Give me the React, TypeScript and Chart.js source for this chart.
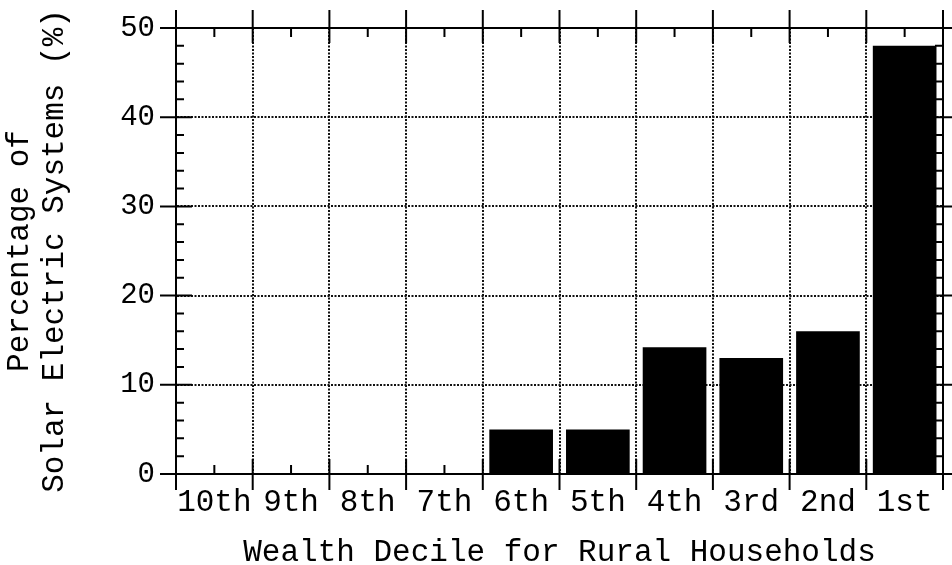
import React, { useEffect, useRef } from "react";
import { Chart, registerables } from "chart.js";

Chart.register(...registerables);

const CATEGORIES = ["10th", "9th", "8th", "7th", "6th", "5th", "4th", "3rd", "2nd", "1st"];
const VALUES = [0, 0, 0, 0, 5, 5, 14.2, 13, 16, 48];
const Y_MIN = 0;
const Y_MAX = 50;
const Y_STEP = 10;
const Y_MINOR_STEP = 2;
const X_TITLE = "Wealth Decile for Rural Households";
const Y_TITLE = ["Percentage of", "Solar Electric Systems (%)"];

const FONT = "'Liberation Mono', 'DejaVu Sans Mono', monospace";

const framePlugin = {
  id: "frame",
  beforeDatasetsDraw(chart: any) {
    const { ctx, chartArea: a, scales } = chart;
    const xs = scales.x;
    const ys = scales.y;
    const n = CATEGORIES.length;
    ctx.save();
    ctx.strokeStyle = "#000";
    ctx.lineWidth = 2;
    ctx.setLineDash([]);
    ctx.beginPath();
    ctx.moveTo(a.left - 1, a.top);
    ctx.lineTo(a.right, a.top);
    ctx.lineTo(a.right, a.bottom);
    for (let i = 0; i <= n; i++) {
      const px = xs.getPixelForValue(i - 0.5);
      ctx.moveTo(px, a.top - 18);
      ctx.lineTo(px, a.top + 15);
      ctx.moveTo(px, a.bottom - 15);
      ctx.lineTo(px, a.bottom + 16);
    }
    for (let i = 0; i < n; i++) {
      const px = xs.getPixelForValue(i);
      ctx.moveTo(px, a.top);
      ctx.lineTo(px, a.top + 9);
      ctx.moveTo(px, a.bottom);
      ctx.lineTo(px, a.bottom - 9);
    }
    for (let v = Y_MIN; v <= Y_MAX + 1e-9; v += Y_MINOR_STEP) {
      const py = ys.getPixelForValue(v);
      if (Math.abs(v % Y_STEP) < 1e-9) {
        ctx.moveTo(a.left - 16, py);
        ctx.lineTo(a.left + 16, py);
        ctx.moveTo(a.right - 16, py);
        ctx.lineTo(a.right + 9, py);
      } else {
        ctx.moveTo(a.left, py);
        ctx.lineTo(a.left + 8, py);
        ctx.moveTo(a.right - 8, py);
        ctx.lineTo(a.right, py);
      }
    }
    ctx.stroke();
    ctx.restore();
  },
  afterDraw(chart: any) {
    const { ctx, chartArea: a } = chart;
    ctx.save();
    ctx.fillStyle = "#000";
    ctx.font = `31px ${FONT}`;
    ctx.textAlign = "center";
    ctx.textBaseline = "alphabetic";
    ctx.fillText(X_TITLE, (a.left + a.right) / 2, 561);
    const cy = (a.top + a.bottom) / 2;
    const baselines = [28, 63];
    Y_TITLE.forEach((t, i) => {
      ctx.save();
      ctx.translate(baselines[i], cy);
      ctx.rotate(-Math.PI / 2);
      ctx.fillText(t, 0, 0);
      ctx.restore();
    });
    ctx.restore();
  },
};

export default function App() {
  const ref = useRef<HTMLCanvasElement | null>(null);
  useEffect(() => {
    document.body.style.margin = "0";
    const canvas = ref.current;
    if (!canvas) return;
    const chart = new Chart(canvas, {
      type: "bar",
      data: {
        labels: CATEGORIES,
        datasets: [
          {
            data: VALUES,
            backgroundColor: "#000",
            borderWidth: 0,
            barPercentage: 0.83,
            categoryPercentage: 1,
          },
        ],
      },
      options: {
        responsive: false,
        animation: false,
        events: [],
        layout: { padding: { top: 28, right: 9, left: 0, bottom: 0 } },
        plugins: { legend: { display: false }, tooltip: { enabled: false } },
        scales: {
          x: {
            type: "category",
            offset: true,
            grid: {
              offset: true,
              drawTicks: false,
              color: "#111",
              lineWidth: 2,
            },
            border: { display: true, color: "#000", width: 2, dash: [2, 1.5] },
            ticks: {
              color: "#000",
              padding: 10,
              maxRotation: 0,
              autoSkip: false,
              font: { family: FONT, size: 31 },
            },
            afterFit: (s: any) => {
              s.height = 91;
              s.paddingLeft = 0;
              s.paddingRight = 0;
            },
          },
          y: {
            min: Y_MIN,
            max: Y_MAX,
            grid: { drawTicks: false, color: "#111", lineWidth: 2 },
            border: { display: true, color: "#000", width: 2, dash: [2, 1.5] },
            ticks: {
              stepSize: Y_STEP,
              color: "#000",
              padding: 21,
              font: { family: FONT, size: 29 },
            },
            afterFit: (s: any) => {
              s.width = 176;
              s.paddingTop = 0;
              s.paddingBottom = 0;
            },
          },
        },
      },
      plugins: [framePlugin],
    });
    return () => chart.destroy();
  }, []);
  return (
    <div style={{ width: 952, height: 565 }}>
      <canvas ref={ref} width={952} height={565} style={{ display: "block" }} />
    </div>
  );
}
